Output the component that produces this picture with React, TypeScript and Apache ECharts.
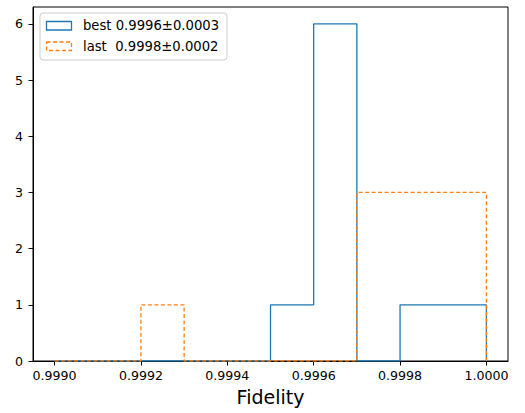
import React, { useEffect, useRef } from "react";
import * as echarts from "echarts";

const binEdges = [0.999, 0.9991, 0.9992, 0.9993, 0.9994, 0.9995, 0.9996, 0.9997, 0.9998, 0.9999, 1.0];
const bestCounts = [0, 0, 0, 0, 0, 1, 6, 0, 1, 1];
const lastCounts = [0, 0, 1, 0, 0, 0, 0, 3, 3, 3];
const xTicks = [0.999, 0.9992, 0.9994, 0.9996, 0.9998, 1.0];
const bestLabel = "best 0.9996±0.0003";
const lastLabel = "last  0.9998±0.0002";

function stepPoints(edges: number[], counts: number[]) {
  const pts: number[][] = [[edges[0], 0]];
  counts.forEach((c, i) => {
    pts.push([edges[i], c]);
    pts.push([edges[i + 1], c]);
  });
  pts.push([edges[edges.length - 1], 0]);
  return pts;
}

const FONT = "DejaVu Sans";

export default function App() {
  const ref = useRef<HTMLDivElement>(null);
  useEffect(() => {
    const chart = echarts.init(ref.current!, null, { renderer: "svg" });
    chart.setOption({
      animation: false,
      grid: {
        left: 33,
        right: 17,
        top: 7,
        bottom: 52,
        show: true,
        borderColor: "#000",
        borderWidth: 1,
        backgroundColor: "transparent",
      },
      xAxis: {
        type: "value",
        min: 0.99895,
        max: 1.00005,
        name: "Fidelity",
        nameLocation: "middle",
        nameGap: 26,
        nameTextStyle: { fontFamily: FONT, fontSize: 19, color: "#000" },
        axisLine: { show: true, onZero: false, lineStyle: { color: "#000", width: 1 } },
        axisTick: { show: true, length: 4.5, customValues: xTicks, lineStyle: { color: "#000" } },
        axisLabel: {
          customValues: xTicks,
          formatter: (v: number) => v.toFixed(4),
          fontFamily: FONT,
          fontSize: 12.6,
          color: "#000",
          margin: 8,
        },
        splitLine: { show: false },
      },
      yAxis: {
        type: "value",
        min: 0,
        max: 6.3,
        interval: 1,
        axisLine: { show: true, lineStyle: { color: "#000", width: 1 } },
        axisTick: { show: true, length: 4.5, lineStyle: { color: "#000" } },
        axisLabel: {
          fontFamily: FONT,
          fontSize: 12.6,
          color: "#000",
          margin: 10,
          showMaxLabel: false,
          formatter: (v: number) => (Number.isInteger(v) ? String(v) : ""),
        },
        splitLine: { show: false },
      },
      series: [
        {
          type: "line",
          name: "best",
          data: stepPoints(binEdges, bestCounts),
          symbol: "none",
          lineStyle: { color: "#1f77b4", width: 1.3 },
          z: 2,
        },
        {
          type: "line",
          name: "last",
          data: stepPoints(binEdges, lastCounts),
          symbol: "none",
          lineStyle: { color: "#ff7f0e", width: 1.3, type: [4, 2.5] },
          z: 3,
        },
      ],
      graphic: [
        {
          type: "rect",
          shape: { x: 40, y: 13, width: 187, height: 47, r: 3 },
          style: { fill: "rgba(255,255,255,0.8)", stroke: "#cccccc", lineWidth: 1 },
          z: 10,
        },
        {
          type: "rect",
          shape: { x: 46.5, y: 21.5, width: 25, height: 8.5 },
          style: { fill: "none", stroke: "#1f77b4", lineWidth: 1.3 },
          z: 11,
        },
        {
          type: "rect",
          shape: { x: 46.5, y: 42, width: 25, height: 8.5 },
          style: { fill: "none", stroke: "#ff7f0e", lineWidth: 1.3, lineDash: [4, 2.5] },
          z: 11,
        },
        {
          type: "text",
          x: 83,
          y: 25.5,
          style: {
            text: bestLabel,
            fontFamily: FONT,
            fontSize: 13.2,
            fill: "#000",
            verticalAlign: "middle",
            align: "left",
          },
          z: 11,
        },
        {
          type: "text",
          x: 83,
          y: 46,
          style: {
            text: lastLabel,
            fontFamily: FONT,
            fontSize: 13.2,
            fill: "#000",
            verticalAlign: "middle",
            align: "left",
          },
          z: 11,
        },
      ],
    });
    return () => chart.dispose();
  }, []);
  return <div ref={ref} style={{ width: 525, height: 413, position: "absolute", left: 0, top: 0 }} />;
}
